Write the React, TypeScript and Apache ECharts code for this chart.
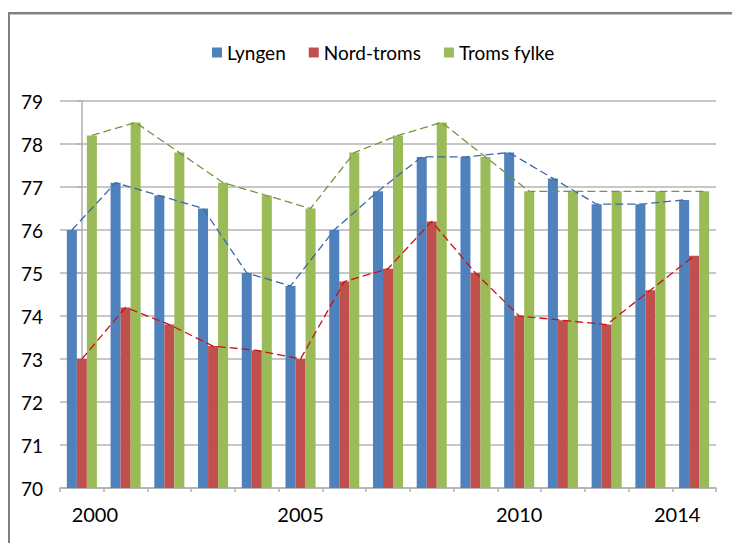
import React, { useEffect, useRef } from "react";
import * as echarts from "echarts";

const years = ["2000","2001","2002","2003","2004","2005","2006","2007","2008","2009","2010","2011","2012","2013","2014"];
const shownYears = ["2000", "2005", "2010", "2014"];
const lyngen = [76.0, 77.1, 76.8, 76.5, 75.0, 74.7, 76.0, 76.9, 77.7, 77.7, 77.8, 77.2, 76.6, 76.6, 76.7];
const nordTroms = [73.0, 74.2, 73.8, 73.3, 73.2, 73.0, 74.8, 75.1, 76.2, 75.0, 74.0, 73.9, 73.8, 74.6, 75.4];
const tromsFylke = [78.2, 78.5, 77.8, 77.1, 76.8, 76.5, 77.8, 78.2, 78.5, 77.7, 76.9, 76.9, 76.9, 76.9, 76.9];
const seriesNames = ["Lyngen", "Nord-troms", "Troms fylke"];
const yTicks = [70, 71, 72, 73, 74, 75, 76, 77, 78, 79];

const barColors = ["#4F81BD", "#C0504D", "#9BBB59"];
const lineColors = ["#3A68A6", "#CC1111", "#77933C"];
const FONT = "Lato";

export default function App() {
  const ref = useRef<HTMLDivElement>(null);
  useEffect(() => {
    if (!ref.current) return;
    const chart = echarts.init(ref.current, null, { renderer: "svg" });
    const allSeries = [lyngen, nordTroms, tromsFylke];
    const barW = 0.229;
    const offsets = [-barW, 0, barW];
    const bars = allSeries.map((d, k) => ({
      name: seriesNames[k],
      type: "bar",
      xAxisIndex: 0,
      yAxisIndex: 0,
      barWidth: "22.9%",
      barGap: "0%",
      data: d,
      itemStyle: { color: barColors[k] },
      z: 2,
    }));
    const lines = allSeries.map((d, k) => ({
      name: seriesNames[k] + "_trend",
      type: "line",
      xAxisIndex: 1,
      yAxisIndex: 0,
      data: d.map((v, i) => [i + offsets[k], v]),
      symbol: "none",
      lineStyle: { color: lineColors[k], width: 1.3, type: [8, 4] },
      z: 5,
    }));
    chart.setOption({
      animation: false,
      backgroundColor: "#ffffff",
      legend: {
        data: seriesNames,
        top: 38,
        left: 207,
        icon: "rect",
        itemWidth: 10,
        itemHeight: 10,
        itemGap: 23,
        textStyle: { fontFamily: FONT, fontSize: 19, color: "#000" },
      },
      grid: { left: 60, right: 16, top: 101, bottom: 55 },
      xAxis: [
        {
          type: "category",
          data: years,
          axisLine: { lineStyle: { color: "#b0b0b0", width: 1.5 } },
          axisTick: { show: true, interval: 0, length: 4, lineStyle: { color: "#b0b0b0", width: 1.5 } },
          axisLabel: {
            interval: (i: number, v: string) => shownYears.includes(v),
            margin: 16,
            fontFamily: FONT,
            fontSize: 20,
            color: "#000",
            formatter: (v: string, i: number) =>
              i === 0 ? "{l|" + v + "}" : i === years.length - 1 ? "{r|" + v + "}" : v,
            rich: {
              l: { fontFamily: FONT, fontSize: 20, color: "#000", padding: [0, 0, 0, 26] },
              r: { fontFamily: FONT, fontSize: 20, color: "#000", padding: [0, 34, 0, 0] },
            },
          },
          splitLine: { show: false },
        },
        {
          type: "value",
          min: -0.5,
          max: years.length - 0.5,
          show: false,
        },
      ],
      yAxis: {
        type: "value",
        min: yTicks[0],
        max: yTicks[yTicks.length - 1],
        interval: 1,
        axisLine: { show: true, lineStyle: { color: "#b0b0b0", width: 1.5 } },
        axisTick: { show: true, length: 5, lineStyle: { color: "#b0b0b0", width: 1.5 } },
        axisLabel: { margin: 17, fontFamily: FONT, fontSize: 19, color: "#000" },
        splitLine: { lineStyle: { color: "#b5b5b5", width: 1.5 } },
      },
      graphic: [
        {
          type: "rect",
          shape: { x: 9, y: 13, width: 900, height: 700 },
          style: { fill: "none", stroke: "#808080", lineWidth: 2 },
          silent: true,
        },
        {
          type: "line",
          shape: { x1: 10, y1: 14.5, x2: 732, y2: 14.5 },
          style: { stroke: "#c4c4c4", lineWidth: 1 },
          silent: true,
        },
      ],
      series: [...bars, ...lines],
    });
    return () => chart.dispose();
  }, []);
  return (
    <div
      ref={ref}
      style={{ position: "fixed", left: 0, top: 0, width: 732, height: 543 }}
    />
  );
}
